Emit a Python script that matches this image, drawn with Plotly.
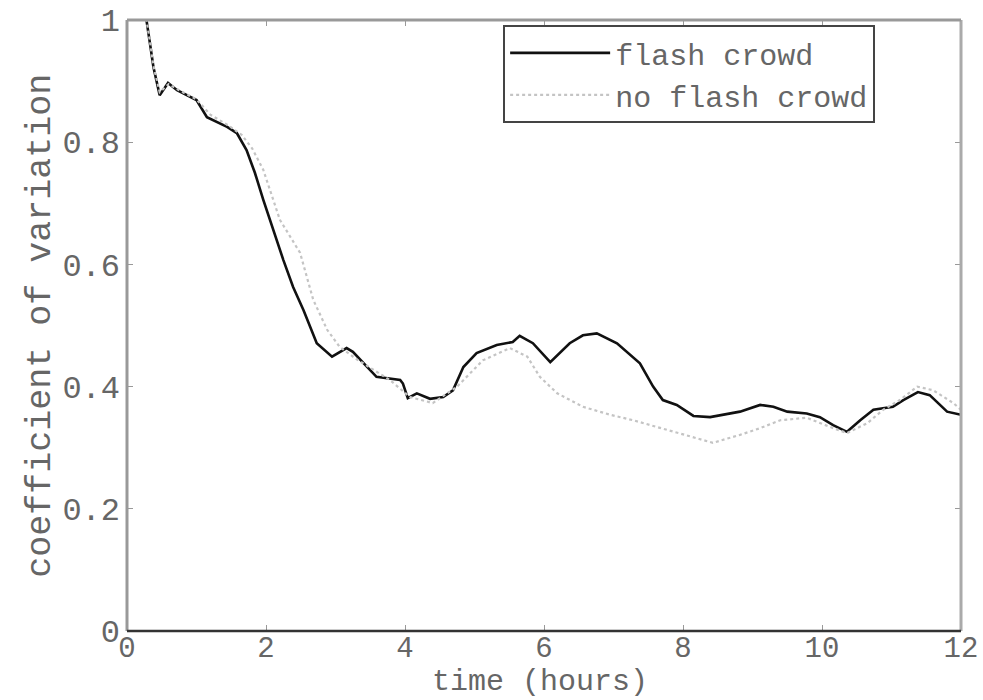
import plotly.graph_objects as go

# flash crowd (solid)
t_flash = [0.22, 0.28, 0.33, 0.38, 0.47, 0.59, 0.72, 1.0, 1.15, 1.44, 1.58, 1.72, 1.84, 1.96,
           2.25, 2.39, 2.54, 2.73, 2.95, 3.16, 3.25, 3.59, 3.93, 3.97, 4.04, 4.17, 4.36, 4.55,
           4.69, 4.84, 5.03, 5.32, 5.55, 5.65, 5.84, 6.09, 6.37, 6.56, 6.76, 7.05, 7.38, 7.57,
           7.71, 7.91, 8.15, 8.39, 8.82, 9.11, 9.3, 9.5, 9.78, 9.97, 10.16, 10.36, 10.55, 10.74,
           11.02, 11.17, 11.38, 11.55, 11.8, 12.0]
cv_flash = [1.1, 1.0, 0.962, 0.923, 0.877, 0.897, 0.885, 0.869, 0.841, 0.825, 0.815, 0.787, 0.75, 0.706,
            0.607, 0.563, 0.525, 0.471, 0.449, 0.463, 0.457, 0.416, 0.411, 0.405, 0.381, 0.389, 0.380, 0.383,
            0.394, 0.432, 0.455, 0.468, 0.473, 0.483, 0.471, 0.440, 0.471, 0.484, 0.487, 0.471, 0.438, 0.400,
            0.378, 0.370, 0.352, 0.350, 0.359, 0.370, 0.367, 0.359, 0.356, 0.350, 0.337, 0.326, 0.345, 0.362,
            0.367, 0.378, 0.391, 0.386, 0.359, 0.354]

# no flash crowd (dotted)
t_noflash = [0.22, 0.28, 0.33, 0.38, 0.47, 0.6, 0.75, 1.0, 1.2, 1.45, 1.65, 1.8, 1.96, 2.2, 2.49,
             2.68, 2.88, 3.06, 3.3, 3.78, 4.07, 4.4, 4.75, 5.12, 5.51, 5.76, 5.94, 6.19, 6.56,
             6.95, 7.28, 7.77, 8.24, 8.43, 8.82, 9.11, 9.4, 9.78, 10.16, 10.36, 10.65, 10.88,
             11.12, 11.37, 11.6, 11.89, 12.0]
cv_noflash = [1.1, 1.0, 0.965, 0.925, 0.882, 0.895, 0.885, 0.87, 0.845, 0.828, 0.812, 0.79, 0.755, 0.673, 0.619,
              0.542, 0.493, 0.465, 0.445, 0.411, 0.383, 0.373, 0.400, 0.443, 0.463, 0.449, 0.416, 0.389, 0.367,
              0.354, 0.345, 0.329, 0.313, 0.308, 0.321, 0.332, 0.345, 0.349, 0.332, 0.324, 0.340, 0.362,
              0.378, 0.400, 0.394, 0.373, 0.362]

x_ticks = [0, 2, 4, 6, 8, 10, 12]
y_ticks = [0, 0.2, 0.4, 0.6, 0.8, 1]
y_ticklabels = ["0", "0.2", "0.4", "0.6", "0.8", "1"]
x_title = "time (hours)"
y_title = "coefficient of variation"

FONT = "Courier New, Liberation Mono, monospace"
TXT = "#666666"

fig = go.Figure()
fig.add_trace(go.Scatter(x=t_flash, y=cv_flash, mode="lines", name="flash crowd",
                         line=dict(color="#111111", width=2.6)))
fig.add_trace(go.Scatter(x=t_noflash, y=cv_noflash, mode="lines", name="no flash crowd",
                         line=dict(color="#c4c4c4", width=2.2, dash="dot")))

fig.update_layout(
    width=983, height=700,
    margin=dict(l=127, r=22, t=20, b=69),
    paper_bgcolor="white", plot_bgcolor="white",
    font=dict(family=FONT, size=33, color=TXT),
    showlegend=True,
    legend=dict(x=0.451, y=0.992, xanchor="left", yanchor="top",
                bgcolor="white", bordercolor="#444444", borderwidth=2,
                font=dict(family=FONT, size=30, color=TXT),
                tracegroupgap=0, itemwidth=100),
    xaxis=dict(range=[0, 12], tickvals=x_ticks, ticks="inside", ticklen=6,
               tickcolor="#999999", showgrid=False, zeroline=False, showline=False,
               mirror="ticks",
               automargin=False, ticklabelstandoff=-4,
               tickfont=dict(family=FONT, size=29, color=TXT)),
    yaxis=dict(range=[0, 1], tickvals=y_ticks, ticktext=y_ticklabels, ticks="inside", ticklen=6,
               tickcolor="#999999", showgrid=False, zeroline=False, showline=False,
               mirror="ticks",
               automargin=False, ticklabelstandoff=6,
               tickfont=dict(family=FONT, size=32, color=TXT)),
)

# axis titles
fig.add_annotation(text=x_title, xref="paper", yref="paper", x=0.495, y=-0.1135,
                   xanchor="center", yanchor="bottom", showarrow=False, borderpad=0,
                   font=dict(family=FONT, size=30, color=TXT))
fig.add_annotation(text=y_title, xref="paper", yref="paper", x=-0.104, y=0.5,
                   xanchor="center", yanchor="middle", showarrow=False, textangle=-90,
                   font=dict(family=FONT, size=35, color=TXT))

# frame lines
fig.add_shape(type="line", xref="paper", yref="paper", x0=0, x1=0, y0=0, y1=1,
              line=dict(color="#999999", width=3))
fig.add_shape(type="line", xref="paper", yref="paper", x0=1, x1=1, y0=0, y1=1,
              line=dict(color="#aaaaaa", width=3))
fig.add_shape(type="line", xref="paper", yref="paper", x0=0, x1=1, y0=1, y1=1,
              line=dict(color="#999999", width=3))
fig.add_shape(type="line", xref="paper", yref="paper", x0=0, x1=1, y0=0, y1=0,
              line=dict(color="#333333", width=2.5))

fig.write_html("out.html")
